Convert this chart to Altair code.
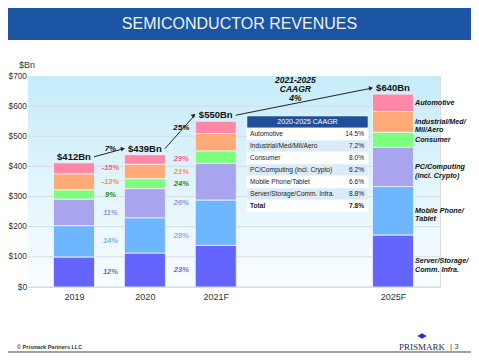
import math
import altair as alt
import pandas as pd

# ---------------- data ----------------
years = ["2019", "2020", "2021F", "2025F"]
segments = ["Automotive", "Industrial/Med/Mil/Aero", "Consumer",
            "PC/Computing (incl. Crypto)", "Mobile Phone/Tablet",
            "Server/Storage/Comm. Infra."]
automotive = [37, 32, 41, 58]
industrial = [53, 48, 58, 69]
consumer = [31, 33, 41, 50]
pc_computing = [88, 97, 122, 130]
mobile = [104, 117, 150, 161]
server = [99, 112, 138, 172]
growth_2020 = ["-15%", "-13%", "9%", "11%", "14%", "12%"]
growth_2021 = ["29%", "21%", "24%", "26%", "28%", "23%"]
arrow_labels = ["7%", "25%", "2021-2025\nCAAGR\n4%"]
legend_labels = ["Automotive", "Industrial/Med/\nMil/Aero", "Consumer",
                 "PC/Computing\n(incl. Crypto)", "Mobile Phone/\nTablet",
                 "Server/Storage/\nComm. Infra."]
table_title = "2020-2025 CAAGR"
table_names = ["Automotive", "Industrial/Med/Mil/Aero", "Consumer",
               "PC/Computing (incl. Crypto)", "Mobile Phone/Tablet",
               "Server/Storage/Comm. Infra.", "Total"]
table_values = ["14.5%", "7.2%", "8.0%", "6.2%", "6.6%", "8.8%", "7.8%"]
y_ticks = [0, 100, 200, 300, 400, 500, 600, 700]

# ---------------- styling / layout ----------------
seg_colors = ["#FF88A6", "#FFAA77", "#7DFF7D", "#A8A4EE", "#6EB6FF", "#6464FF"]
lab_colors = ["#FF5C84", "#FF8A50", "#2A8A2A", "#9A94E6", "#78B4F0", "#6A6AF0"]
slot = {"2019": 0, "2020": 1, "2021F": 2, "2025F": 4.5}
W, H = 412, 211
XDOM = [-0.578, 5.092]
YDOM = [0, 700]
PAD = {"left": 20, "top": 68, "right": 31, "bottom": 66}
FONT = "Liberation Sans"
xs = alt.Scale(domain=XDOM, nice=False, zero=False)
ys = alt.Scale(domain=YDOM, nice=False, zero=False)
PXX = W / (XDOM[1] - XDOM[0])
PXY = H / (YDOM[1] - YDOM[0])

label_expr = " : ".join(f"datum.value == {slot[y]} ? '{y}'" for y in years[:-1]) + f" : '{years[-1]}'"
XAX = alt.Axis(values=[slot[y] for y in years], labelExpr=label_expr, title=None,
               ticks=False, domain=False, grid=False, labelFontSize=9,
               labelColor="#333333", labelPadding=5, labelFlush=False)
YAX = alt.Axis(values=y_ticks, labelExpr="'$' + datum.value", title=None,
               ticks=False, domain=False, grid=False, labelFontSize=8.3,
               labelColor="#333333", labelPadding=1.5, labelFlush=False)


def X(f):
    return alt.X(f, scale=xs, axis=XAX, title=None)


def Y(f, **kw):
    return alt.Y(f, scale=ys, axis=YAX, title=None, **kw)


def px2y(py):
    return YDOM[1] - py / PXY


series = [automotive, industrial, consumer, pc_computing, mobile, server]

rows = []
for yi, yr in enumerate(years):
    for si, seg in enumerate(segments):
        rows.append({"year": yr, "pos": slot[yr], "segment": seg,
                     "value": series[si][yi], "order": len(segments) - si})
bars_df = pd.DataFrame(rows)

totals = [sum(s[i] for s in series) for i in range(len(years))]
tot_df = pd.DataFrame({"pos": [slot[y] for y in years], "total": totals,
                       "label": [f"${t}Bn" for t in totals]})


def seg_mids(yi):
    mids = {}
    base = 0
    for si in reversed(range(len(segments))):
        v = series[si][yi]
        mids[si] = base + v / 2
        base += v
    return mids


grow_rows = []
for yi, labels in [(0, growth_2020), (1, growth_2021)]:
    m = seg_mids(yi)
    for si in range(len(segments)):
        grow_rows.append({"pos": slot[years[yi]] + 0.5, "mid": m[si],
                          "label": labels[si], "col": lab_colors[si]})
grow_df = pd.DataFrame(grow_rows)

m25 = seg_mids(3)
leg_df = pd.DataFrame({"pos": [slot["2025F"]] * 6,
                       "mid": [m25[i] for i in range(6)],
                       "label": legend_labels})

XO1, XO2, YO = 20, -21, -6
arr_rows = []
for k in range(3):
    x1, x2 = slot[years[k]], slot[years[k + 1]]
    t1, t2 = totals[k], totals[k + 1]
    dxp = (x2 - x1) * PXX + XO2 - XO1
    dyp = -(t2 - t1) * PXY
    ang = math.degrees(math.atan2(dyp, dxp)) % 360
    arr_rows.append({"x1": x1, "x2": x2, "t1": t1, "t2": t2, "ang": ang,
                     "xm": (x1 + x2) / 2, "tm": (t1 + t2) / 2,
                     "label": arrow_labels[k], "multi": k == 2})
arr_df = pd.DataFrame(arr_rows)

# table (pixel layout inside the plot area converted to data units)
T_X0, T_X1, T_Y0, T_ROW = 219, 340, 40, 12
tab_rows = [{"name": table_title, "val": "", "ytop": px2y(T_Y0),
             "ybot": px2y(T_Y0 + T_ROW), "ymid": px2y(T_Y0 + T_ROW / 2),
             "fill": "#1F4E9A", "bold": False}]
for i, (n, v) in enumerate(zip(table_names, table_values)):
    top = T_Y0 + T_ROW * (i + 1)
    tab_rows.append({"name": n, "val": v, "ytop": px2y(top),
                     "ybot": px2y(top + T_ROW), "ymid": px2y(top + T_ROW / 2),
                     "fill": "#DCEBF8" if i % 2 == 1 else "#FFFFFF",
                     "bold": n == "Total"})
tab_df = pd.DataFrame(tab_rows)
one = pd.DataFrame({"a": [0]})

# ---------------- layers ----------------
grad = alt.LinearGradient(gradient="linear", x1=0, x2=0, y1=0, y2=1,
                          stops=[alt.GradientStop(color="#C6ECFA", offset=0),
                                 alt.GradientStop(color="#FAFDFF", offset=1)])
bg = alt.Chart(one).mark_rect(fill=grad).encode(
    x=alt.value(0), x2=alt.value(W), y=alt.value(0), y2=alt.value(H))

grid = alt.Chart(pd.DataFrame({"v": y_ticks[:-1]})).mark_rule(
    color="#D3DCE4", strokeWidth=1).encode(
    y=Y("v:Q"), x=alt.value(0), x2=alt.value(W))

bars = alt.Chart(bars_df).mark_bar(size=41, stroke="#F4F4FF", strokeWidth=0.8).encode(
    x=X("pos:Q"),
    y=Y("value:Q", stack="zero"),
    color=alt.Color("segment:N", scale=alt.Scale(domain=segments, range=seg_colors),
                    legend=None),
    order=alt.Order("order:Q", sort="ascending"),
)

tot_text = alt.Chart(tot_df).mark_text(fontSize=9.5, fontWeight="bold", dy=-6,
                                       color="#111111").encode(
    x=X("pos:Q"), y=Y("total:Q"), text="label:N")

grow_text = alt.Chart(grow_df).mark_text(fontSize=7.5, fontWeight="bold",
                                         fontStyle="italic", dx=1).encode(
    x=X("pos:Q"), y=Y("mid:Q"), text="label:N",
    color=alt.Color("col:N", scale=None))

leg_text = alt.Chart(leg_df).mark_text(fontSize=7.2, fontWeight="bold", fontStyle="italic",
                                       align="left", dx=22, lineBreak="\n",
                                       lineHeight=8.5, color="#111111").encode(
    x=X("pos:Q"), y=Y("mid:Q"), text="label:N")

arrows = alt.Chart(arr_df).mark_rule(color="#222222", strokeWidth=1, xOffset=XO1,
                                     x2Offset=XO2, yOffset=YO, y2Offset=YO).encode(
    x=X("x1:Q"), x2="x2:Q", y=Y("t1:Q"), y2="t2:Q")
heads = alt.Chart(arr_df).mark_point(shape="triangle-right", filled=True, size=22,
                                     color="#222222", opacity=1, xOffset=XO2 - 1,
                                     yOffset=YO).encode(
    x=X("x2:Q"), y=Y("t2:Q"),
    angle=alt.Angle("ang:Q", scale=None))
arr_text1 = alt.Chart(arr_df).transform_filter("!datum.multi").mark_text(
    fontSize=8, fontWeight="bold", fontStyle="italic", dy=-10, dx=1,
    color="#111111").encode(
    x=X("xm:Q"), y=Y("tm:Q"), text="label:N")
arr_text2 = alt.Chart(arr_df).transform_filter("datum.multi").mark_text(
    fontSize=8.5, fontWeight="bold", fontStyle="italic", dy=-28, dx=-9,
    lineBreak="\n", lineHeight=9, color="#111111").encode(
    x=X("xm:Q"), y=Y("tm:Q"), text="label:N")

tab_rect = alt.Chart(tab_df).mark_rect(stroke="#FFFFFF", strokeWidth=0.5).encode(
    x=alt.value(T_X0), x2=alt.value(T_X1),
    y=Y("ytop:Q"), y2="ybot:Q",
    color=alt.Color("fill:N", scale=None))
tab_head = alt.Chart(tab_df.iloc[:1]).mark_text(fontSize=7, color="#FFFFFF").encode(
    x=alt.value((T_X0 + T_X1) / 2), y=Y("ymid:Q"), text="name:N")
body = tab_df.iloc[1:]
tab_layers = []
for is_bold in (False, True):
    part = body[body["bold"] == is_bold]
    fw = "bold" if is_bold else "normal"
    tab_layers.append(alt.Chart(part).mark_text(
        fontSize=6.6, align="left", color="#222222", fontWeight=fw).encode(
        x=alt.value(T_X0 + 3), y=Y("ymid:Q"), text="name:N"))
    tab_layers.append(alt.Chart(part).mark_text(
        fontSize=6.6, align="right", color="#222222", fontWeight=fw).encode(
        x=alt.value(T_X1 - 4), y=Y("ymid:Q"), text="val:N"))

# decorations: banner, title, unit, footer
banner = alt.Chart(one).mark_rect(color="#1B55A3").encode(
    x=alt.value(-PAD["left"]), x2=alt.value(W + PAD["right"]),
    y=alt.value(-PAD["top"]), y2=alt.value(-36))
title = alt.Chart(one).mark_text(text="SEMICONDUCTOR REVENUES", fontSize=16,
                                 color="#EEF2F8", baseline="alphabetic").encode(
    x=alt.value(211.5), y=alt.value(-47))
unit = alt.Chart(one).mark_text(text="$Bn", fontSize=9, color="#333333").encode(
    x=alt.value(-1), y=alt.value(-11))
foot = alt.Chart(one).mark_text(text="© Prismark Partners LLC", fontSize=5.5,
                                fontWeight="bold", align="left",
                                color="#333333").encode(
    x=alt.value(-11), y=alt.value(271))
logo = alt.Chart(one).mark_point(shape="M -1 0 L 0 -0.6 L 1 0 L 0 0.6 Z",
                                 filled=True, size=90, color="#2B2BE0",
                                 opacity=1).encode(
    x=alt.value(394), y=alt.value(260))
brand = alt.Chart(one).mark_text(text="PRISMARK", fontSize=9, font="Liberation Serif",
                                 color="#1E2A5A").encode(
    x=alt.value(394), y=alt.value(271))
page = alt.Chart(one).mark_text(text="|  3", fontSize=8, color="#444444",
                                align="left").encode(
    x=alt.value(422), y=alt.value(271))
bottom_line = alt.Chart(one).mark_rule(color="#A0A0A0", strokeWidth=2).encode(
    x=alt.value(-PAD["left"]), x2=alt.value(W + PAD["right"]), y=alt.value(276))

chart = alt.layer(
    bg, grid, bars, tot_text, grow_text, leg_text, arrows, heads, arr_text1,
    arr_text2, tab_rect, tab_head, *tab_layers,
    banner, title, unit, foot, logo, brand, page, bottom_line
).properties(
    width=W, height=H, padding=PAD, autosize=alt.AutoSizeParams(type="none"),
    background="#FFFFFF"
).configure_view(stroke=None).configure(font=FONT)

chart.save("out.html", embed_options={"renderer": "svg", "actions": False})
